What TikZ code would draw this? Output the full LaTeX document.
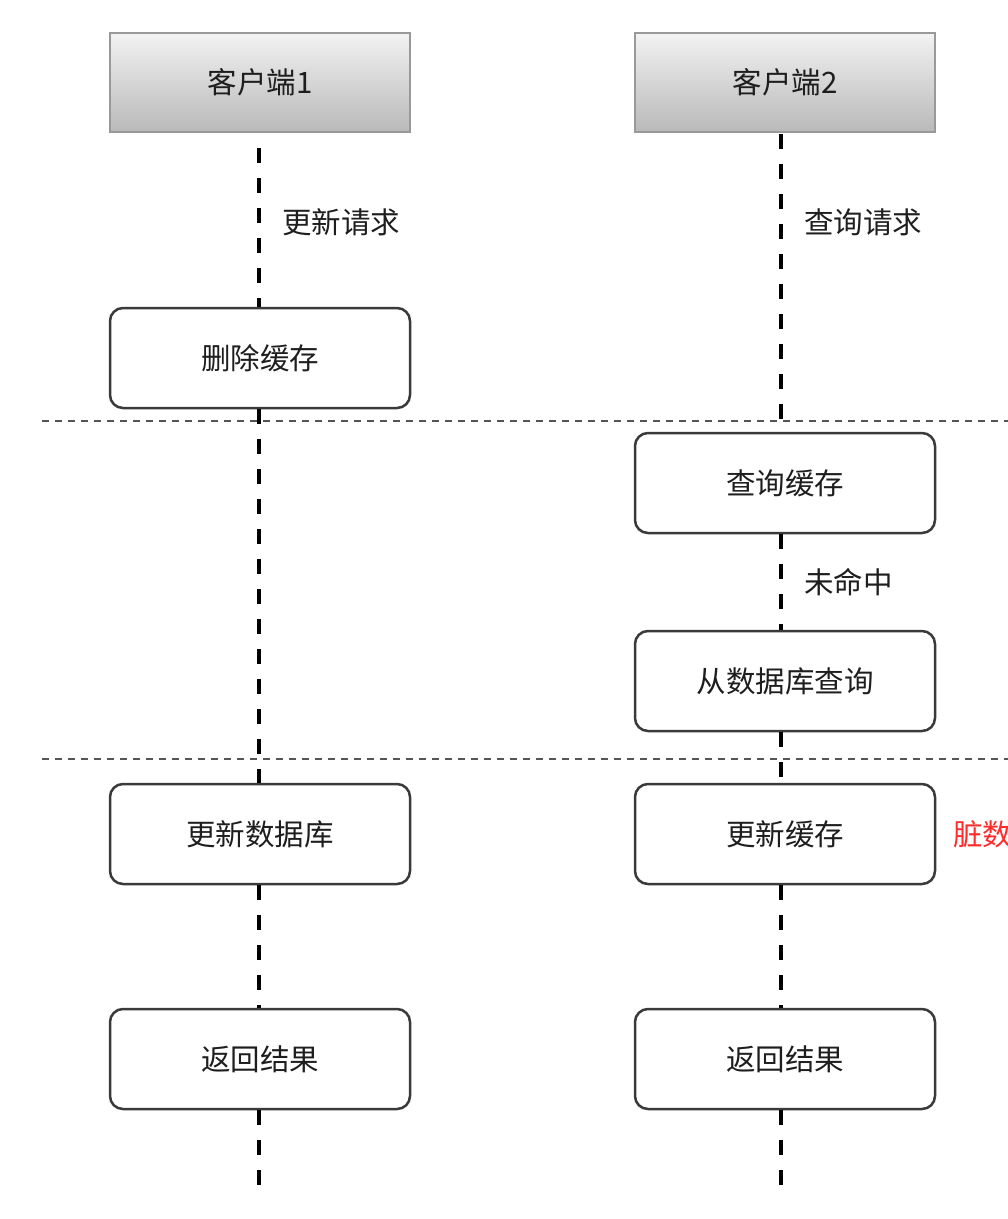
\documentclass[tikz,border=0pt]{standalone}
\usepackage{fontspec}
\setmainfont{Noto Sans CJK SC}
\definecolor{boxc}{HTML}{3A3A3A}
\definecolor{txt}{HTML}{1E1E1E}
\definecolor{hdrb}{HTML}{999999}
\definecolor{sepc}{HTML}{555555}
\definecolor{dirty}{HTML}{FF2A2A}
\begin{document}
\begin{tikzpicture}[x=1pt,y=-1pt,
  lbl/.style={font=\fontsize{29.5}{32}\selectfont, text=txt},
  box/.style={lbl, draw=boxc, line width=2.5pt, rounded corners=13pt,
    minimum width=300pt, minimum height=100pt, fill=white, inner sep=0pt},
  hdr/.style={lbl, draw=hdrb, line width=2pt, top color=gray!10, bottom color=gray!55,
    minimum width=300pt, minimum height=99pt, inner sep=0pt},
  life/.style={line width=4pt, dash pattern=on 15pt off 15pt, black},
  sep/.style={line width=1.6pt, dash pattern=on 7pt off 6pt, sepc},
  edgelbl/.style={lbl, anchor=west, xshift=18pt}
]
\fill[white] (0,0) rectangle (1008,1219);
\useasboundingbox (0,0) rectangle (1008,1219);

% separators
\coordinate (s1a) at (42,421); \coordinate (s1b) at (1008,421);
\coordinate (s2a) at (42,759); \coordinate (s2b) at (1008,759);
\draw[sep] (s1a) -- (s1b);
\draw[sep] (s2a) -- (s2b);

% headers
\node[hdr] (h1) at (260,82.5) {客户端1};
\node[hdr] (h2) at (785,82.5) {客户端2};

% boxes client 1
\node[box] (del)  at (260,358)  {删除缓存};
\node[box] (udb)  at (260,834)  {更新数据库};
\node[box] (ret1) at (260,1059) {返回结果};

% boxes client 2
\node[box] (qc)   at (785,483)  {查询缓存};
\node[box] (qdb)  at (785,681)  {从数据库查询};
\node[box] (uc)   at (785,834)  {更新缓存};
\node[box] (ret2) at (785,1059) {返回结果};

\coordinate (e1) at (259,1185);
\coordinate (e2) at (781,1195);
\coordinate (t1) at (259,148);
\coordinate (t2) at (781,134);

% lifelines client 1
\draw[life] (t1) -- (del.north -| t1) node[pos=0.465, edgelbl] {更新请求};
\draw[life] (del.south -| t1) -- (udb.north -| t1);
\draw[life] (udb.south -| t1) -- (ret1.north -| t1);
\draw[life] (ret1.south -| t1) -- (e1);
% lifelines client 2
\draw[life] (t2) -- (qc.north -| t2) node[pos=0.295, edgelbl] {查询请求};
\draw[life] (qc.south -| t2) -- (qdb.north -| t2) node[midway, edgelbl] {未命中};
\draw[life] (qdb.south -| t2) -- (uc.north -| t2);
\draw[life] (uc.south -| t2) -- (ret2.north -| t2);
\draw[life] (ret2.south -| t2) -- (e2);

\node[lbl, text=dirty, anchor=west, inner sep=0pt] (dd) at ([xshift=17pt]uc.east) {脏数};
\end{tikzpicture}
\end{document}
